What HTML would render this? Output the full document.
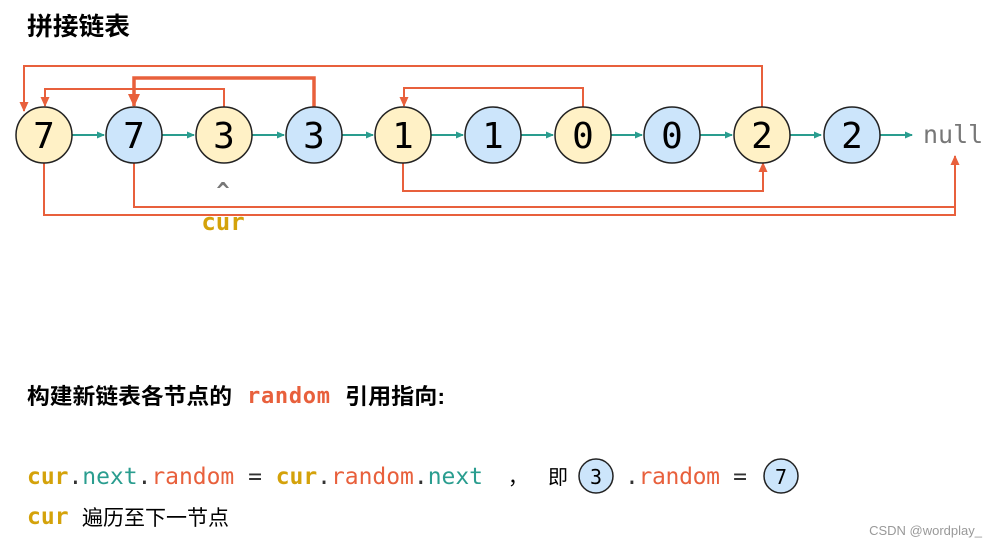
<!DOCTYPE html>
<html><head><meta charset="utf-8"><style>
body{margin:0;background:#fff;}
svg{display:block}
.cj{font-family:"Liberation Sans","Noto Sans CJK SC",sans-serif;}
.mo{font-family:"DejaVu Sans Mono","Liberation Mono",monospace;}
</style></head><body>
<svg width="997" height="547" viewBox="0 0 997 547" xmlns="http://www.w3.org/2000/svg">
<defs>
<marker id="g" markerWidth="8" markerHeight="8" refX="7" refY="4" orient="auto" markerUnits="userSpaceOnUse"><path d="M0,0.5 L8,4 L0,7.5z" fill="#2a9d8f"/></marker>
<marker id="r" markerWidth="10" markerHeight="10" refX="9" refY="5" orient="auto" markerUnits="userSpaceOnUse"><path d="M0,0.5 L10,5 L0,9.5z" fill="#e8603c"/></marker>
<marker id="rb" markerWidth="14" markerHeight="14" refX="12" refY="7" orient="auto" markerUnits="userSpaceOnUse"><path d="M0,1 L13,7 L0,13z" fill="#e8603c"/></marker>
</defs>
<text x="27" y="35" class="cj" font-size="25" font-weight="bold" fill="#000" textLength="103" lengthAdjust="spacingAndGlyphs">拼接链表</text>
<g stroke="#2a9d8f" stroke-width="2" fill="none">
<line x1="72" y1="135" x2="104" y2="135" marker-end="url(#g)"/>
<line x1="162" y1="135" x2="194" y2="135" marker-end="url(#g)"/>
<line x1="252" y1="135" x2="284" y2="135" marker-end="url(#g)"/>
<line x1="342" y1="135" x2="373" y2="135" marker-end="url(#g)"/>
<line x1="431" y1="135" x2="463" y2="135" marker-end="url(#g)"/>
<line x1="521" y1="135" x2="553" y2="135" marker-end="url(#g)"/>
<line x1="611" y1="135" x2="642" y2="135" marker-end="url(#g)"/>
<line x1="700" y1="135" x2="732" y2="135" marker-end="url(#g)"/>
<line x1="790" y1="135" x2="821" y2="135" marker-end="url(#g)"/>
<line x1="879" y1="135" x2="912" y2="135" marker-end="url(#g)"/>
</g>
<g stroke="#e8603c" stroke-width="2" fill="none">
<polyline points="762,107 762,66 24,66 24,111" marker-end="url(#r)"/>
<polyline points="224,107 224,89 45,89 45,106" marker-end="url(#r)"/>
<polyline points="583,107 583,88 404,88 404,106" marker-end="url(#r)"/>
<polyline points="403,163 403,191 763,191 763,163" marker-end="url(#r)"/>
<polyline points="134,163 134,207 955,207 955,156" marker-end="url(#r)"/>
<polyline points="44,163 44,215 955,215 955,207"/>
<polyline points="314,107 314,78 134,78 134,106" stroke-width="3.5" marker-end="url(#rb)"/>
</g>
<g stroke="#222" stroke-width="1.5">
<circle cx="44" cy="135" r="28" fill="#fff1c6"/>
<circle cx="134" cy="135" r="28" fill="#cce5fb"/>
<circle cx="224" cy="135" r="28" fill="#fff1c6"/>
<circle cx="314" cy="135" r="28" fill="#cce5fb"/>
<circle cx="403" cy="135" r="28" fill="#fff1c6"/>
<circle cx="493" cy="135" r="28" fill="#cce5fb"/>
<circle cx="583" cy="135" r="28" fill="#fff1c6"/>
<circle cx="672" cy="135" r="28" fill="#cce5fb"/>
<circle cx="762" cy="135" r="28" fill="#fff1c6"/>
<circle cx="852" cy="135" r="28" fill="#cce5fb"/>
</g>
<g class="mo" font-size="36" text-anchor="middle" fill="#000">
<text x="44" y="148">7</text><text x="134" y="148">7</text><text x="224" y="148">3</text><text x="314" y="148">3</text><text x="403" y="148">1</text><text x="493" y="148">1</text><text x="583" y="148">0</text><text x="672" y="148">0</text><text x="762" y="148">2</text><text x="852" y="148">2</text>
</g>
<text x="923" y="143" class="mo" font-size="25" fill="#777">null</text>
<text x="223" y="198" class="mo" font-size="22" font-weight="bold" fill="#777" text-anchor="middle">^</text>
<text x="223" y="230" class="mo" font-size="24" font-weight="bold" fill="#d4a20a" text-anchor="middle">cur</text>
<text x="27" y="404" class="cj" font-size="22" font-weight="bold" fill="#000" textLength="205" lengthAdjust="spacingAndGlyphs">构建新链表各节点的</text>
<text x="247" y="403" class="mo" font-size="22" font-weight="bold" fill="#e8603c" textLength="83" lengthAdjust="spacing">random</text>
<text x="345" y="404" class="cj" font-size="22" font-weight="bold" fill="#000" textLength="100" lengthAdjust="spacingAndGlyphs">引用指向:</text>
<text x="27" y="484" class="mo" font-size="23" fill="#333" textLength="456" lengthAdjust="spacing"><tspan fill="#d4a20a" font-weight="bold">cur</tspan>.<tspan fill="#2a9d8f">next</tspan>.<tspan fill="#e8603c">random</tspan> = <tspan fill="#d4a20a" font-weight="bold">cur</tspan>.<tspan fill="#e8603c">random</tspan>.<tspan fill="#2a9d8f">next</tspan></text>
<text x="508" y="484" class="cj" font-size="20" fill="#000">，</text>
<text x="548" y="484" class="cj" font-size="20" fill="#000">即</text>
<circle cx="596" cy="476" r="17" fill="#cce5fb" stroke="#222" stroke-width="1.5"/>
<text x="596" y="484" class="mo" font-size="20" text-anchor="middle">3</text>
<text x="625" y="484" class="mo" font-size="23" fill="#333" textLength="122" lengthAdjust="spacing">.<tspan fill="#e8603c">random</tspan> =</text>
<circle cx="781" cy="476" r="17" fill="#cce5fb" stroke="#222" stroke-width="1.5"/>
<text x="781" y="484" class="mo" font-size="20" text-anchor="middle">7</text>
<text x="27" y="524" class="mo" font-size="23" font-weight="bold" fill="#d4a20a">cur</text>
<text x="82" y="525" class="cj" font-size="21" fill="#000">遍历至下一节点</text>
<text x="982" y="535" class="cj" font-size="13" fill="#999" text-anchor="end">CSDN @wordplay_</text>
</svg>
</body></html>
